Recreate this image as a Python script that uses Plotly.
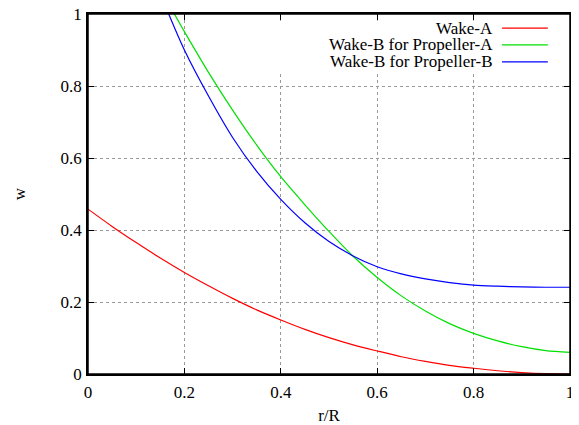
import plotly.graph_objects as go

x_vals = [0.0, 0.05, 0.1, 0.15, 0.2, 0.25, 0.3, 0.35, 0.4, 0.45, 0.5,
          0.55, 0.6, 0.65, 0.7, 0.75, 0.8, 0.85, 0.9, 0.95, 1.0]

wake_a = [0.458, 0.410, 0.365, 0.322, 0.282, 0.245, 0.210, 0.178, 0.150, 0.124, 0.101,
          0.081, 0.064, 0.048, 0.035, 0.024, 0.016, 0.009, 0.004, 0.001, 0.0]

xb = [0.15, 0.2, 0.25, 0.3, 0.35, 0.4, 0.45, 0.5, 0.55, 0.6, 0.65,
      0.7, 0.75, 0.8, 0.85, 0.9, 0.95, 1.0]
wake_b_prop_a = [1.07, 0.951, 0.838, 0.733, 0.636, 0.548, 0.470, 0.396, 0.327, 0.268, 0.217,
                 0.175, 0.140, 0.113, 0.092, 0.076, 0.065, 0.060]
wake_b_prop_b = [1.056, 0.900, 0.772, 0.657, 0.563, 0.485, 0.420, 0.368, 0.328, 0.298, 0.278,
                 0.264, 0.254, 0.247, 0.244, 0.242, 0.241, 0.241]

names = ["Wake-A", "Wake-B for Propeller-A", "Wake-B for Propeller-B"]
colors = ["#ff0000", "#00e000", "#0000ff"]
tick_vals = [0, 0.2, 0.4, 0.6, 0.8, 1]
tick_text = ["0", "0.2", "0.4", "0.6", "0.8", "1"]

FONT = "Liberation Serif, Times New Roman, serif"
fig = go.Figure()
series = [(x_vals, wake_a), (xb, wake_b_prop_a), (xb, wake_b_prop_b)]
for (xs, ys), n, c in zip(series, names, colors):
    fig.add_trace(go.Scatter(x=xs, y=ys, mode="lines", name=n,
                             line=dict(color=c, width=1.2, shape="spline", smoothing=0.8),
                             showlegend=False))

# key background (blanks grid like gnuplot key)
fig.add_shape(type="rect", xref="paper", yref="paper", x0=0.37, x1=0.993, y0=0.84, y1=0.981,
              fillcolor="white", line=dict(width=0), layer="above")
# plot frame
fig.add_shape(type="rect", xref="paper", yref="paper", x0=0, x1=1, y0=0, y1=1,
              line=dict(color="black", width=1.5), layer="above")

legend_y = [0.961, 0.914, 0.867]
for n, c, ly in zip(names, colors, legend_y):
    fig.add_annotation(xref="paper", yref="paper", x=0.845, y=ly, text=n, showarrow=False,
                       xanchor="right", yanchor="middle",
                       font=dict(family=FONT, size=17, color="black"))
    fig.add_shape(type="line", xref="paper", yref="paper", x0=0.859, x1=0.954, y0=ly, y1=ly,
                  line=dict(color=c, width=1.3), layer="above")

axis_common = dict(range=[0, 1], tickvals=tick_vals, ticktext=tick_text,
                   ticks="inside", ticklen=6, tickcolor="black", tickwidth=1,
                   showline=True, linecolor="black", linewidth=1.5, mirror="allticks",
                   showgrid=True, gridcolor="#999999", griddash="dot", gridwidth=1,
                   zeroline=False, automargin=False, ticklabeloverflow="allow",
                   tickfont=dict(family=FONT, size=17, color="black"))

fig.update_xaxes(**axis_common, ticklabelstandoff=2,
                 title=dict(text="r/R", font=dict(family=FONT, size=17, color="black"), standoff=12))
fig.update_yaxes(**axis_common, ticklabelstandoff=1,
                 title=dict(text="w", font=dict(family=FONT, size=17, color="black"), standoff=31))

# page body adds an 8px margin, so the figure is sized to fit the 579x425 window
fig.update_layout(width=571, height=417, margin=dict(l=80, r=9, t=6, b=51),
                  paper_bgcolor="white", plot_bgcolor="white",
                  font=dict(family=FONT, size=17, color="black"))

fig.write_html("out.html")
